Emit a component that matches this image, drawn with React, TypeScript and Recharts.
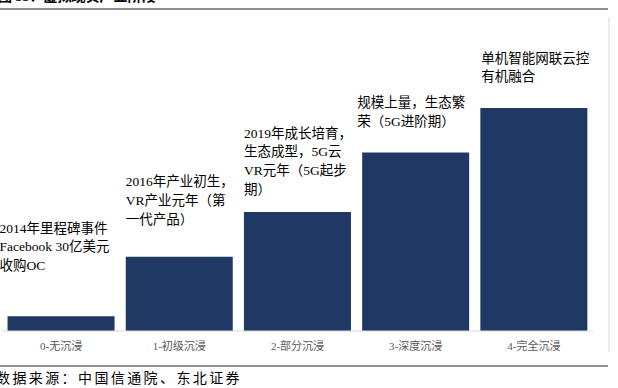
import React from "react";
import { BarChart, Bar, XAxis, YAxis, LabelList } from "recharts";

const categories = ["0-无沉浸", "1-初级沉浸", "2-部分沉浸", "3-深度沉浸", "4-完全沉浸"];
const levels = [1, 5, 8, 12, 15];
const annotations = [
  ["2014年里程碑事件", "Facebook 30亿美元", "收购OC"],
  ["2016年产业初生，", "VR产业元年（第", "一代产品）"],
  ["2019年成长培育，", "生态成型，5G云", "VR元年（5G起步", "期）"],
  ["规模上量，生态繁", "荣（5G进阶期）"],
  ["单机智能网联云控", "有机融合"],
];
const titleText = "图 55：虚拟现实产业阶段";
const sourceText = "数据来源：中国信通院、东北证券";

const data = categories.map((c, i) => ({
  name: c,
  value: levels[i],
  anno: annotations[i].join("|"),
}));

const FONT = "'Liberation Serif', 'Noto Sans CJK SC', serif";
const ANNO_DY = [-88, -75, -79, -50, -50];
const ANNO_DX = [-8, 0, 0, -5, 1];
const LINE_H = 18.7;

const renderAnno = (props: any) => {
  const { x, y, value } = props;
  const idx = annotations.findIndex((a) => a.join("|") === value);
  const lines = String(value).split("|");
  const bx = Number(x) + ANNO_DX[idx];
  const by = Number(y) + ANNO_DY[idx];
  return (
    <g>
      {lines.map((ln, k) => (
        <text
          key={k}
          x={bx}
          y={by + k * LINE_H}
          dominantBaseline="central"
          fontSize={13.5}
          fontFamily={FONT}
          fill="#000"
        >
          {ln}
        </text>
      ))}
    </g>
  );
};

export default function App() {
  return (
    <div style={{ position: "absolute", left: 0, top: 0, width: 618, height: 388, background: "#fff" }}>
      <BarChart
        width={618}
        height={388}
        data={data}
        margin={{ top: 108, right: 25, bottom: 27, left: 2 }}
        barCategoryGap="4.7%"
      >
        <XAxis
          dataKey="name"
          height={30}
          axisLine={{ stroke: "#d9d9d9" }}
          tickLine={false}
          tickMargin={5}
          tick={{ fontSize: 11, fill: "#595959", fontFamily: FONT }}
        />
        <YAxis hide domain={[0, 15]} />
        <Bar dataKey="value" fill="#1f3864" isAnimationActive={false}>
          <LabelList dataKey="anno" content={renderAnno} />
        </Bar>
      </BarChart>
      <svg
        width={618}
        height={388}
        style={{ position: "absolute", left: 0, top: 0, pointerEvents: "none" }}
      >
        <text x={-2} y={1} fontSize={14} fontWeight="bold" fontFamily={FONT} fill="#000">
          {titleText}
        </text>
        <line x1={0} y1={9} x2={608} y2={9} stroke="#222" strokeWidth={1.2} />
        <line x1={609} y1={17} x2={609} y2={352} stroke="#d9d9d9" strokeWidth={1} />
        <line x1={0} y1={366} x2={608} y2={366} stroke="#222" strokeWidth={1.2} />
        <text
          x={-4}
          y={378}
          dominantBaseline="central"
          fontSize={14}
          letterSpacing={2.4}
          fontFamily={FONT}
          fill="#000"
        >
          {sourceText}
        </text>
      </svg>
    </div>
  );
}
